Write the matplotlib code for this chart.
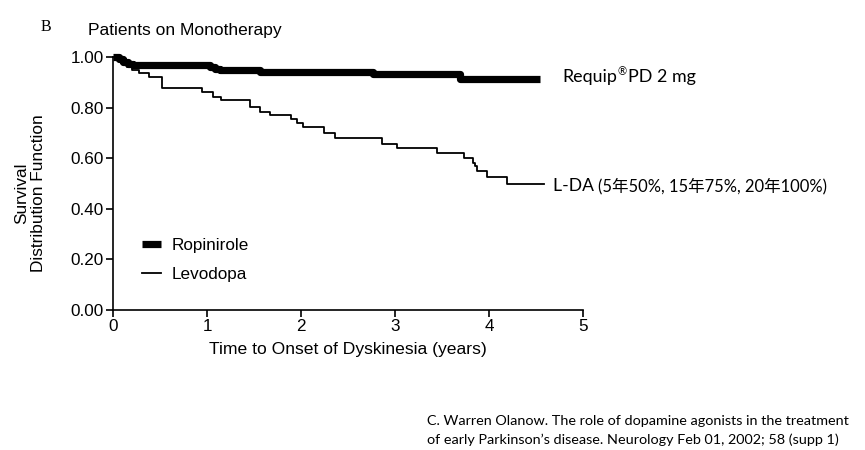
import matplotlib
matplotlib.use("Agg")
import matplotlib.pyplot as plt
from matplotlib.lines import Line2D

# ---- data ----
rop_t = [0.00, 0.06, 0.11, 0.16, 0.21, 1.03, 1.09, 1.14, 1.56, 2.77, 3.69, 4.54]
rop_s = [1.000, 0.992, 0.982, 0.973, 0.967, 0.960, 0.954, 0.950, 0.941, 0.932, 0.915, 0.915]

levo_t = [0.00, 0.08, 0.15, 0.20, 0.28, 0.38, 0.52, 0.95, 1.06, 1.15, 1.46, 1.56,
          1.67, 1.89, 1.96, 2.02, 2.24, 2.36, 2.86, 3.02, 3.45, 3.73, 3.83, 3.85,
          3.87, 3.98, 4.19, 4.58]
levo_s = [1.000, 0.980, 0.960, 0.948, 0.935, 0.919, 0.876, 0.863, 0.843, 0.830, 0.804, 0.784,
          0.771, 0.754, 0.741, 0.725, 0.700, 0.680, 0.658, 0.640, 0.621, 0.601, 0.583, 0.569,
          0.549, 0.527, 0.500, 0.500]

x_ticks = [0, 1, 2, 3, 4, 5]
y_ticks = [0.00, 0.20, 0.40, 0.60, 0.80, 1.00]

W, H = 865, 450
fig = plt.figure(figsize=(W / 100, H / 100), dpi=100)

def fx(x):
    return x / W

def fy(y):
    return 1 - y / H

left, right, top, bottom = 113, 583, 57, 310
ax = fig.add_axes([fx(left), fy(bottom), (right - left) / W, (bottom - top) / H])

sans = ["Liberation Sans", "DejaVu Sans"]
fs = 12.3

ax.step(rop_t, rop_s, where="post", color="black", lw=5.2, solid_capstyle="butt",
        clip_on=False, label="Ropinirole")
ax.step(levo_t, levo_s, where="post", color="black", lw=1.3, clip_on=False,
        label="Levodopa")

ax.set_xlim(0, 5)
ax.set_ylim(0, 1.0)
ax.set_xticks(x_ticks)
ax.set_yticks(y_ticks)
ax.set_xticklabels([str(v) for v in x_ticks], family=sans, fontsize=fs)
ax.set_yticklabels([f"{v:.2f}" for v in y_ticks], family=sans, fontsize=fs)
for s in ["top", "right"]:
    ax.spines[s].set_visible(False)
for s in ["left", "bottom"]:
    ax.spines[s].set_linewidth(1.2)
ax.tick_params(direction="out", length=5, width=1.2, pad=1.5)

ax.set_xlabel("Time to Onset of Dyskinesia (years)", family=sans, fontsize=12.6, labelpad=6)

fig.text(fx(30), fy(193), "Survival\nDistribution Function", family=sans, fontsize=12.4,
         rotation=90, ha="center", va="center", linespacing=1.15, multialignment="center")

fig.text(fx(88), fy(31), "Patients on Monotherapy", family=sans, fontsize=12.5,
         ha="left", va="center")
fig.text(fx(41), fy(27), "B", family=["Liberation Serif"], fontsize=11.5,
         ha="left", va="center")

handles = [Line2D([], [], color="black", lw=5.2, solid_capstyle="butt"),
           Line2D([], [], color="black", lw=1.3)]
ax.legend(handles, ["Ropinirole", "Levodopa"], loc="upper left",
          bbox_to_anchor=((145 - left) / (right - left) - 0.02, (bottom - 231) / (bottom - top)),
          frameon=False, prop={"family": sans, "size": fs},
          handlelength=1.1, handletextpad=0.6, labelspacing=0.8, borderaxespad=0)

# right-hand annotations
fig.canvas.draw()
rend = fig.canvas.get_renderer()

cal = ["Lato", "DejaVu Sans"]
t1 = fig.text(fx(562), fy(77), "Requip", family=cal, fontsize=12.9, ha="left", va="center")
bb = t1.get_window_extent(rend)
t2 = fig.text(bb.x1 / W + 0.001, fy(72), "\u00ae", family=cal, fontsize=8, ha="left", va="center")
bb2 = t2.get_window_extent(rend)
fig.text(bb2.x1 / W + 0.001, fy(77), "PD 2 mg", family=cal, fontsize=12.9, ha="left", va="center")

t3 = fig.text(fx(553), fy(186), "L-DA ", family=cal, fontsize=12.6, ha="left", va="center")
bb3 = t3.get_window_extent(rend)
fig.text(bb3.x1 / W, fy(186), "(5年50%, 15年75%, 20年100%)",
         family=["Lato", "Noto Sans CJK JP", "DejaVu Sans"], fontsize=11.9, ha="left", va="center")

fig.text(fx(427), fy(421), "C. Warren Olanow. The role of dopamine agonists in the treatment",
         family=cal, fontsize=10.4, ha="left", va="center")
fig.text(fx(427), fy(440), "of early Parkinson\u2019s disease. Neurology Feb 01, 2002; 58 (supp 1)",
         family=cal, fontsize=10.4, ha="left", va="center")

fig.savefig("out.png", dpi=100)
